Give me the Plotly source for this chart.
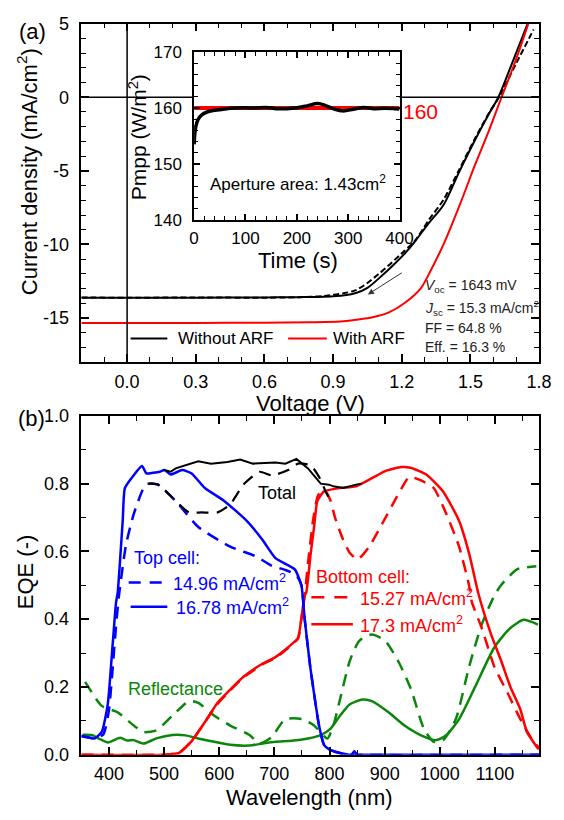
import plotly.graph_objects as go

# ---------------- Data: panel (a) J-V ----------------
v_without = [-0.2, 0.0, 0.3, 0.6, 0.75, 0.86, 0.95, 1.0, 1.05, 1.115, 1.16, 1.214, 1.26, 1.313, 1.383, 1.45, 1.52, 1.58, 1.622, 1.678, 1.75]
j_without = [-13.62, -13.62, -13.62, -13.6, -13.58, -13.55, -13.45, -13.3, -12.95, -12.1, -11.45, -10.6, -9.75, -8.65, -7.3, -5.1, -2.9, -1.15, 0.0, 2.15, 5.0]
v_without_rev = [-0.2, 0.0, 0.3, 0.6, 0.75, 0.86, 1.0, 1.1, 1.2, 1.257, 1.32, 1.383, 1.45, 1.52, 1.58, 1.625, 1.7, 1.776]
j_without_rev = [-13.6, -13.62, -13.6, -13.62, -13.58, -13.5, -13.1, -12.0, -10.6, -9.76, -8.3, -6.95, -4.95, -2.8, -1.1, 0.0, 2.3, 4.6]
v_with = [-0.2, 0.0, 0.3, 0.6, 0.8, 0.932, 1.0, 1.073, 1.144, 1.214, 1.284, 1.327, 1.383, 1.453, 1.52, 1.58, 1.636, 1.7, 1.753]
j_with = [-15.33, -15.33, -15.33, -15.32, -15.29, -15.24, -15.12, -14.95, -14.62, -13.96, -12.96, -11.75, -9.98, -7.33, -4.6, -2.3, 0.0, 2.6, 5.0]
arrow_from = (1.207, -11.86)
arrow_to = (1.052, -13.4)

# inset: Pmpp vs time
t_meas = [0, 1, 3, 8, 15, 25, 40, 60, 80, 100, 120, 140, 160, 180, 200, 220, 240, 255, 270, 290, 310, 330, 350, 370, 390, 400]
p_meas = [153.5, 155.0, 156.6, 158.0, 158.8, 159.3, 159.6, 159.85, 160.0, 160.05, 160.0, 160.1, 159.9, 159.9, 160.05, 160.4, 160.8, 160.5, 159.9, 159.5, 159.8, 160.1, 159.9, 159.95, 159.9, 159.85]
t_ref = [0, 400]
p_ref = [160, 160]

# ---------------- Data: panel (b) EQE ----------------
wl_top_solid = [350, 360, 374, 387, 398, 407, 413, 416, 425, 429, 445, 460, 468, 480, 492, 501, 512, 533, 550, 574, 609, 650, 679, 702, 737, 749, 755, 765, 772, 781, 790, 800, 819, 840, 845, 850, 860, 1180]
eqe_top_solid = [0.055, 0.052, 0.048, 0.067, 0.15, 0.33, 0.45, 0.48, 0.69, 0.787, 0.825, 0.852, 0.83, 0.832, 0.835, 0.84, 0.827, 0.84, 0.83, 0.787, 0.749, 0.69, 0.633, 0.58, 0.547, 0.50, 0.40, 0.26, 0.18, 0.086, 0.029, 0.015, 0.005, 0.0, 0.01, 0.0, 0.0, 0.0]
wl_top_dash = [350, 374, 390, 400, 408, 414, 419, 431, 445, 463, 474, 489, 521, 562, 620, 667, 696, 720, 740, 749, 755, 765, 772, 781, 790, 800, 819, 840, 1180]
eqe_top_dash = [0.055, 0.048, 0.06, 0.13, 0.28, 0.40, 0.48, 0.62, 0.71, 0.787, 0.80, 0.797, 0.749, 0.672, 0.614, 0.585, 0.557, 0.545, 0.53, 0.50, 0.40, 0.26, 0.18, 0.086, 0.029, 0.015, 0.005, 0.0, 0.0]
wl_bot_solid = [350, 500, 527, 550, 574, 597, 620, 644, 679, 702, 725, 743, 749, 755, 758, 766, 772, 778, 790, 819, 848, 877, 901, 930, 947, 977, 1006, 1035, 1053, 1070, 1093, 1111, 1128, 1146, 1158, 1178, 1180]
eqe_bot_solid = [0.0, 0.0, 0.005, 0.04, 0.096, 0.153, 0.192, 0.23, 0.269, 0.288, 0.317, 0.345, 0.403, 0.47, 0.48, 0.595, 0.672, 0.749, 0.777, 0.787, 0.792, 0.816, 0.837, 0.849, 0.847, 0.825, 0.777, 0.69, 0.595, 0.475, 0.355, 0.278, 0.2, 0.134, 0.067, 0.019, 0.017]
wl_bot_dash = [350, 500, 527, 550, 574, 597, 620, 644, 679, 702, 725, 743, 749, 755, 762, 770, 778, 785, 793, 802, 810, 825, 837, 851, 872, 895, 918, 942, 948, 965, 989, 1012, 1035, 1053, 1058, 1076, 1099, 1123, 1146, 1170, 1180]
eqe_bot_dash = [0.0, 0.0, 0.005, 0.04, 0.096, 0.15, 0.19, 0.228, 0.267, 0.286, 0.315, 0.343, 0.40, 0.47, 0.58, 0.69, 0.76, 0.78, 0.777, 0.749, 0.70, 0.633, 0.595, 0.576, 0.614, 0.68, 0.749, 0.816, 0.82, 0.81, 0.787, 0.71, 0.614, 0.50, 0.451, 0.374, 0.259, 0.182, 0.105, 0.038, 0.02]
wl_tot_solid = [500, 512, 521, 539, 562, 585, 615, 638, 661, 702, 720, 740, 761, 784, 799, 807, 825, 848, 858]
eqe_tot_solid = [0.84, 0.835, 0.845, 0.854, 0.866, 0.859, 0.864, 0.871, 0.859, 0.862, 0.859, 0.873, 0.845, 0.80, 0.797, 0.792, 0.787, 0.797, 0.80]
wl_tot_dash = [470, 477, 490, 521, 545, 568, 597, 620, 644, 673, 696, 725, 743, 766, 781, 793, 802]
eqe_tot_dash = [0.80, 0.80, 0.797, 0.749, 0.715, 0.715, 0.715, 0.739, 0.797, 0.835, 0.824, 0.84, 0.859, 0.854, 0.82, 0.777, 0.749]
wl_refl_solid = [352, 369, 385, 398, 408, 416, 421, 433, 445, 463, 486, 515, 539, 562, 591, 620, 655, 679, 702, 731, 761, 784, 802, 819, 837, 860, 877, 907, 936, 965, 994, 1012, 1035, 1064, 1099, 1128, 1152, 1178]
refl_solid = [0.059, 0.058, 0.045, 0.036, 0.042, 0.048, 0.05, 0.042, 0.043, 0.033, 0.048, 0.058, 0.057, 0.048, 0.038, 0.029, 0.027, 0.033, 0.038, 0.041, 0.048, 0.058, 0.077, 0.115, 0.149, 0.163, 0.158, 0.125, 0.086, 0.058, 0.043, 0.058, 0.105, 0.2, 0.317, 0.374, 0.398, 0.384]
wl_refl_dash = [357, 387, 416, 445, 463, 486, 515, 545, 562, 591, 620, 655, 673, 696, 702, 720, 750, 772, 796, 807, 819, 837, 854, 877, 901, 924, 948, 971, 989, 1006, 1029, 1053, 1076, 1099, 1111, 1140, 1175]
refl_dash = [0.215, 0.144, 0.125, 0.086, 0.067, 0.072, 0.115, 0.158, 0.153, 0.115, 0.086, 0.058, 0.033, 0.053, 0.067, 0.105, 0.105, 0.086, 0.048, 0.086, 0.163, 0.278, 0.336, 0.355, 0.336, 0.278, 0.192, 0.077, 0.038, 0.043, 0.105, 0.259, 0.384, 0.47, 0.5, 0.547, 0.556]

# ---------------- Layout geometry ----------------
W, H = 564, 820
def px(x):
    return x / W
def py(y):
    return 1 - y / H

XA = [px(79), px(552.7)]
YA = [py(361), py(14)]
XI = [px(195.7), px(408.3)]
YI = [py(215), py(43.3)]
YB = [py(763.3), py(416)]
XRA = [-0.2, 1.8]
YRA = [-18, 5]

BLUE = '#0000ff'
RED = '#ff0000'
GREEN = '#0a870a'
FONT = 'Arial, Liberation Sans, sans-serif'

fig = go.Figure()

# panel (a)
fig.add_trace(go.Scatter(x=v_without_rev, y=j_without_rev, mode='lines', line=dict(color='black', width=2, dash='6px,3px', shape='spline', smoothing=0.8), xaxis='x', yaxis='y'))
fig.add_trace(go.Scatter(x=v_without, y=j_without, mode='lines', line=dict(color='black', width=2, shape='spline', smoothing=0.8), xaxis='x', yaxis='y'))
fig.add_trace(go.Scatter(x=v_with, y=j_with, mode='lines', line=dict(color=RED, width=2, shape='spline', smoothing=0.8), xaxis='x', yaxis='y'))

# inset
fig.add_trace(go.Scatter(x=t_ref, y=p_ref, mode='lines', line=dict(color=RED, width=4), xaxis='x3', yaxis='y3', cliponaxis=False))
fig.add_trace(go.Scatter(x=t_meas, y=p_meas, mode='lines', line=dict(color='black', width=3.5, shape='spline'), xaxis='x3', yaxis='y3'))

# panel (b)
dash_b = '12px,8px'
sm = 0.5
fig.add_trace(go.Scatter(x=wl_refl_dash, y=refl_dash, mode='lines', line=dict(color=GREEN, width=2.5, dash=dash_b, shape='spline', smoothing=0.6), xaxis='x2', yaxis='y2'))
fig.add_trace(go.Scatter(x=wl_refl_solid, y=refl_solid, mode='lines', line=dict(color=GREEN, width=2.5, shape='spline', smoothing=0.6), xaxis='x2', yaxis='y2'))
fig.add_trace(go.Scatter(x=wl_bot_dash, y=eqe_bot_dash, mode='lines', line=dict(color=RED, width=2.5, dash=dash_b, shape='spline', smoothing=sm), xaxis='x2', yaxis='y2'))
fig.add_trace(go.Scatter(x=wl_bot_solid, y=eqe_bot_solid, mode='lines', line=dict(color=RED, width=2.5, shape='spline', smoothing=sm), xaxis='x2', yaxis='y2'))
fig.add_trace(go.Scatter(x=wl_top_dash, y=eqe_top_dash, mode='lines', line=dict(color=BLUE, width=2.5, dash=dash_b, shape='spline', smoothing=sm), xaxis='x2', yaxis='y2'))
fig.add_trace(go.Scatter(x=wl_top_solid, y=eqe_top_solid, mode='lines', line=dict(color=BLUE, width=2.5, shape='spline', smoothing=sm), xaxis='x2', yaxis='y2'))
fig.add_trace(go.Scatter(x=wl_tot_dash, y=eqe_tot_dash, mode='lines', line=dict(color='black', width=2.2, dash=dash_b, shape='spline', smoothing=sm), xaxis='x2', yaxis='y2'))
fig.add_trace(go.Scatter(x=wl_tot_solid, y=eqe_tot_solid, mode='lines', line=dict(color='black', width=2), xaxis='x2', yaxis='y2'))

def axis(domain, rng, anchor, dtick, tick0, minor_dtick, ticklen=8, minorlen=5, size=18, standoff=2, **kw):
    d = dict(domain=domain, range=rng, anchor=anchor, showline=True, linecolor='black', linewidth=1.5,
             mirror='allticks', ticks='inside', ticklen=ticklen, tickwidth=1.5, tickcolor='black',
             showgrid=False, zeroline=False, dtick=dtick, tick0=tick0,
             tickfont=dict(size=size, color='black', family=FONT), ticklabelstandoff=standoff,
             minor=dict(dtick=minor_dtick, tick0=tick0, ticks='inside', ticklen=minorlen, tickwidth=1.2,
                        tickcolor='black', showgrid=False))
    d.update(kw)
    return d

xtv = [0.0, 0.3, 0.6, 0.9, 1.2, 1.5, 1.8]
ytv = [5, 0, -5, -10, -15]
layout = dict(
    width=W, height=H, margin=dict(l=0, r=0, t=0, b=0), showlegend=False,
    paper_bgcolor='white', plot_bgcolor='rgba(0,0,0,0)', font=dict(family=FONT, color='black'),
    xaxis=axis(XA, XRA, 'y', 0.3, 0, 0.1, tickvals=xtv, ticktext=['%.1f' % v for v in xtv]),
    yaxis=axis(YA, YRA, 'x', 5, 0, 1, standoff=7, tickvals=ytv, ticktext=[str(v) for v in ytv]),
    xaxis2=axis(XA, [350, 1180], 'y2', 100, 0, 50),
    yaxis2=axis(YB, [0, 1.0], 'x2', 0.2, 0, 0.1, standoff=7, tickformat='.1f'),
    xaxis3=axis(XI, [0, 400], 'y3', 100, 0, 20, ticklen=6, minorlen=4, size=17),
    yaxis3=axis(YI, [140, 170], 'x3', 10, 0, 2, ticklen=6, minorlen=4, size=17, standoff=7),
)
fig.update_layout(**layout)

# zero lines of panel (a), interrupted by the inset
def v_at(xp):
    return XRA[0] + (xp - XA[0]) / (XA[1] - XA[0]) * (XRA[1] - XRA[0])
shapes = [
    dict(type='line', xref='x', yref='y', x0=XRA[0], x1=v_at(XI[0]), y0=0, y1=0, line=dict(color='black', width=1.5)),
    dict(type='line', xref='x', yref='y', x0=v_at(XI[1]), x1=XRA[1], y0=0, y1=0, line=dict(color='black', width=1.5)),
    dict(type='line', xref='x', yref='y', x0=0, x1=0, y0=YRA[0], y1=YRA[1], line=dict(color='black', width=1.5)),
]
# legend samples
def seg(x0, x1, y, color, dash='solid', width=2.5):
    return dict(type='line', xref='paper', yref='paper', x0=px(x0), x1=px(x1), y0=py(y), y1=py(y),
                line=dict(color=color, width=width, dash=dash))
shapes += [
    seg(130, 168, 336.7, 'black', width=2),
    seg(293, 333, 336.7, RED, width=2),
    seg(128, 168, 586.7, BLUE, dash='12px,9px'),
    seg(130, 168, 611.7, BLUE),
    seg(317, 359, 602, RED, dash='13px,10px'),
    seg(317, 360, 629.5, RED),
]
fig.update_layout(shapes=shapes)

def txt(x, y, text, size, color='black', xanchor='left', angle=0):
    return dict(x=px(x), y=py(y), xref='paper', yref='paper', text=text, showarrow=False,
                xanchor=xanchor, yanchor='middle', textangle=angle,
                font=dict(size=size, color=color, family=FONT))

ann = [
    txt(12, 22, '(a)', 22),
    txt(11, 419, '(b)', 22),
    txt(23, 166, 'Current density (mA/cm<sup>2</sup>)', 22, xanchor='center', angle=-90),
    txt(316, 403, 'Voltage (V)', 22, xanchor='center'),
    txt(137, 130, 'Pmpp (W/m<sup>2</sup>)', 21, xanchor='center', angle=-90),
    txt(303, 257, 'Time (s)', 22, xanchor='center'),
    txt(303, 177, 'Aperture area: 1.43cm<sup>2</sup>', 17, xanchor='center'),
    txt(410, 104, '160', 21, color=RED),
    txt(176.7, 336.7, 'Without ARF', 17),
    txt(337, 336.7, 'With ARF', 17),
    txt(433, 283, '<i>V</i><sub>oc</sub> = 1643 mV', 14, color='#222'),
    txt(433, 305, '<i>J</i><sub>sc</sub> = 15.3 mA/cm<sup>2</sup>', 14, color='#222'),
    txt(433, 326, 'FF = 64.8 %', 14, color='#222'),
    txt(433, 345, 'Eff. = 16.3 %', 14, color='#222'),
    txt(22, 576, 'EQE (-)', 22, xanchor='center', angle=-90),
    txt(315, 807, 'Wavelength (nm)', 22, xanchor='center'),
    txt(281, 495, 'Total', 18, xanchor='center'),
    txt(131, 561.7, 'Top cell:', 18, color=BLUE),
    txt(172, 586.7, '14.96 mA/cm<sup>2</sup>', 18, color=BLUE),
    txt(175, 611.7, '16.78 mA/cm<sup>2</sup>', 18, color=BLUE),
    txt(125, 695.7, 'Reflectance', 18, color=GREEN),
    txt(320, 580.7, 'Bottom cell:', 18, color=RED),
    txt(365, 602, '15.27 mA/cm<sup>2</sup>', 18, color=RED),
    txt(365, 629.5, '17.3 mA/cm<sup>2</sup>', 18, color=RED),
    dict(x=arrow_to[0], y=arrow_to[1], ax=arrow_from[0], ay=arrow_from[1], xref='x', yref='y',
         axref='x', ayref='y', showarrow=True, arrowhead=2, arrowsize=1.2, arrowwidth=1, arrowcolor='#333', text=''),
]
fig.update_layout(annotations=ann)

fig.write_html('out.html')
